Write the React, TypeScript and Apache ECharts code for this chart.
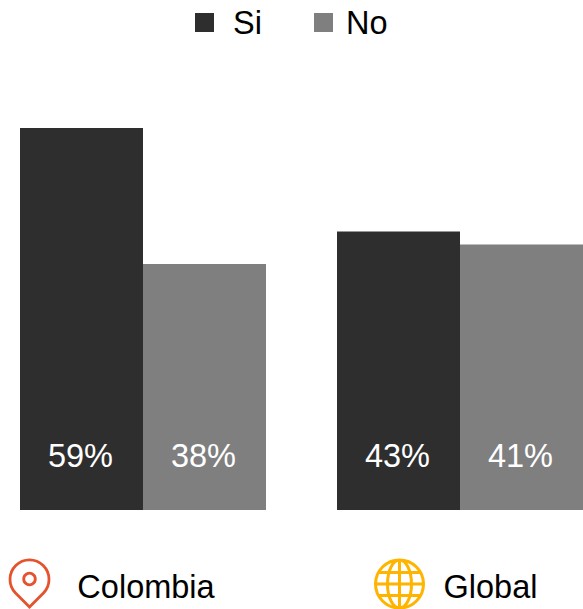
import React, { useEffect, useRef } from "react";
import * as echarts from "echarts";

const categories = ["Colombia", "Global"];
const siValues = [59, 43];
const noValues = [38, 41];
const FONT = '"Liberation Sans", Arial, sans-serif';

const PIN = "M20.5 47 L6.5 33 A19.5 19.5 0 1 1 34.5 33 Z";
const GLOBE =
  "M0 24 A24 24 0 1 1 48 24 A24 24 0 1 1 0 24 Z " +
  "M12 24 A12 24 0 1 1 36 24 A12 24 0 1 1 12 24 Z " +
  "M24 0 L24 48 M0 24 L48 24 M3 12.5 L45 12.5 M3 35.5 L45 35.5";

echarts.graphic.registerShape("pinIcon", echarts.graphic.extendPath(PIN as any, {}) as any);
echarts.graphic.registerShape("globeIcon", echarts.graphic.extendPath(GLOBE as any, {}) as any);

export default function App() {
  const ref = useRef<HTMLDivElement>(null);
  useEffect(() => {
    document.body.style.margin = "0";
    const chart = echarts.init(ref.current!, null, { renderer: "svg" });
    const seriesLabel = {
      show: true,
      position: "insideBottom" as const,
      distance: 38,
      offset: [-1, 0],
      color: "#ffffff",
      fontSize: 32.5,
      fontFamily: FONT,
      formatter: "{c}%",
    };
    const legendBase = {
      top: 6,
      padding: 0,
      itemWidth: 19,
      itemHeight: 19,
      icon: "rect",
      textStyle: { fontSize: 32.5, color: "#000000", fontFamily: FONT },
    };
    chart.setOption({
      animation: false,
      backgroundColor: "#ffffff",
      legend: [
        {
          ...legendBase,
          left: 195,
          data: ["Si"],
          textStyle: { ...legendBase.textStyle, padding: [0, 0, 0, 14] },
        },
        { ...legendBase, left: 314, data: ["No"], textStyle: { ...legendBase.textStyle, padding: [0, 0, 0, 8] } },
      ],
      grid: { left: -15.5, top: 128, width: 634, height: 382, outerBoundsMode: "none", containLabel: false },
      xAxis: {
        type: "category",
        data: categories,
        axisLine: { show: false },
        axisTick: { show: false },
        axisLabel: {
          margin: 60,
          interval: 0,
          hideOverlap: false,
          formatter: (v: string) => (v === "Colombia" ? `{a|${v}}` : `{b|${v}}`),
          rich: {
            a: { fontSize: 32.5, color: "#000", fontFamily: FONT, padding: [0, 0, 0, 6] },
            b: { fontSize: 32.5, color: "#000", fontFamily: FONT, padding: [0, 0, 0, 61] },
          },
        },
      },
      yAxis: { type: "value", min: 0, max: 59, show: false, splitLine: { show: false } },
      series: [
        { name: "Si", type: "bar", data: siValues, barWidth: 123, barGap: 0, itemStyle: { color: "#2e2e2e" }, label: seriesLabel },
        { name: "No", type: "bar", data: noValues, barWidth: 123, barGap: 0, itemStyle: { color: "#7f7f7f" }, label: seriesLabel },
      ],
      graphic: [
        { type: "pinIcon", x: 9, y: 560, style: { fill: "none", stroke: "#e4532d", lineWidth: 2.8 } },
        { type: "circle", shape: { cx: 29.5, cy: 579, r: 5.8 }, style: { fill: "none", stroke: "#e4532d", lineWidth: 2.8 } },
        { type: "globeIcon", x: 375.5, y: 560, style: { fill: "none", stroke: "#ffb400", lineWidth: 3 } },
      ],
    });
    return () => chart.dispose();
  }, []);
  return <div ref={ref} style={{ width: 583, height: 609 }} />;
}
